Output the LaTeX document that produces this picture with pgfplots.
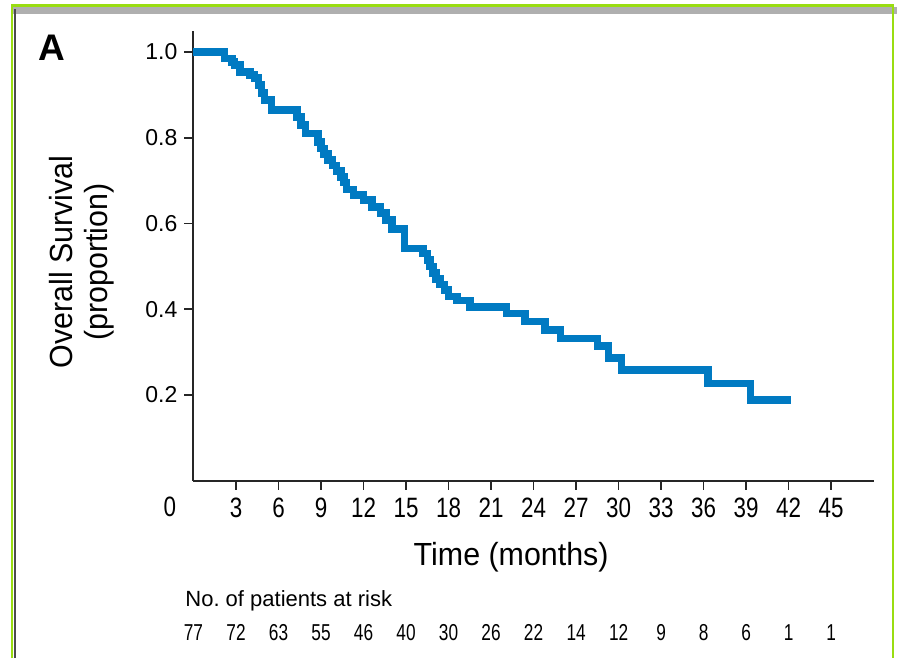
\documentclass[border=0pt]{standalone}
\usepackage{fontspec}
\setmainfont{Liberation Sans}
\newfontfamily\condfont[FakeStretch=0.8]{Liberation Sans}
\newfontfamily\rfont[FakeStretch=0.75]{Liberation Sans}
\newfontfamily\labfont[FakeStretch=0.95]{Liberation Sans}
\usepackage{pgfplots}
\pgfplotsset{compat=1.18}
\definecolor{kmblue}{RGB}{0,122,194}
\definecolor{framegreen}{RGB}{153,221,17}
\definecolor{framegray}{RGB}{175,175,175}
\begin{document}
\begin{tikzpicture}
\useasboundingbox (-96.75pt,-88.625pt) rectangle (351.75pt,240.375pt);
% figure frame
\fill[framegray] (-90.75pt,233.4pt) rectangle (351.75pt,237.0pt);
\draw[framegreen, line width=1.2pt] (-90.75pt,-88.625pt) -- (-90.75pt,237.6pt) -- (349.75pt,237.6pt) -- (349.75pt,-88.625pt);
\draw[black!70, line width=0.8pt] (-89.2pt,-88.625pt) -- (-89.2pt,236pt);
\begin{axis}[
  anchor=origin, at={(0,0)},
  x=7.085pt, y=214.375pt,
  xmin=0, xmax=48, ymin=0, ymax=1.05,
  axis x line*=bottom, axis y line*=left,
  axis line style={line width=1pt, black!85},
  xtick={3,6,...,45},
  ytick={0.2,0.4,0.6,0.8,1.0},
  tick align=outside,
  major tick length=4.5pt,
  tick style={line width=0.8pt, black!85},
  /pgf/number format/assume math mode=true,
  yticklabel style={font=\fontsize{11.5pt}{11.5pt}\selectfont, /pgf/number format/.cd, fixed, fixed zerofill, precision=1},
  xticklabel style={font=\condfont\fontsize{14pt}{14pt}\selectfont, yshift=-0.5pt},
  xlabel={Time (months)},
  xlabel style={font=\labfont\fontsize{16pt}{16pt}\selectfont, at={(axis description cs:0.467,-0.169)}, anchor=center},
  ylabel={Overall Survival\\(proportion)},
  ylabel style={font=\labfont\fontsize{16pt}{17.5pt}\selectfont, align=center, at={(axis description cs:-0.164,0.486)}, anchor=center},
  clip=false,
]
\addplot[const plot, color=kmblue, line width=3.8pt, line join=miter] coordinates {
(0,1.0) (2.2,0.985) (2.7,0.977) (2.9,0.970) (3.3,0.954) (4.0,0.946) (4.3,0.939)
(4.6,0.923) (4.8,0.904) (5.0,0.888) (5.5,0.865) (7.3,0.849) (7.6,0.830) (7.9,0.810)
(8.8,0.790) (9.0,0.775) (9.2,0.762) (9.5,0.748) (9.8,0.735) (10.1,0.722) (10.4,0.709)
(10.6,0.696) (10.8,0.679) (11.3,0.666) (12.0,0.655) (12.6,0.639) (13.2,0.624)
(13.6,0.608) (14.0,0.587) (14.9,0.542) (16.2,0.530) (16.5,0.515) (16.7,0.500)
(16.9,0.485) (17.1,0.470) (17.4,0.458) (17.7,0.445) (18.0,0.430) (18.6,0.420)
(19.5,0.405) (22.1,0.390) (23.4,0.371) (24.8,0.352) (25.9,0.332) (28.5,0.314)
(29.3,0.287) (30.2,0.258) (36.3,0.227) (39.3,0.188) (42.2,0.188)
};
\node[font=\condfont\fontsize{14pt}{14pt}\selectfont] at (axis cs:-1.66,-0.0600) {0};
\node[font=\fontsize{18.5pt}{18.5pt}\selectfont\bfseries] at (axis cs:-9.99,1.009) {A};
\node[font=\fontsize{11pt}{11pt}\selectfont, anchor=west, inner sep=0pt] at (axis cs:-0.6,-0.28) {No.\ of patients at risk};
\node[font=\rfont\fontsize{11.5pt}{11.5pt}\selectfont] at (axis cs:0,-0.355) {77};
\node[font=\rfont\fontsize{11.5pt}{11.5pt}\selectfont] at (axis cs:3,-0.355) {72};
\node[font=\rfont\fontsize{11.5pt}{11.5pt}\selectfont] at (axis cs:6,-0.355) {63};
\node[font=\rfont\fontsize{11.5pt}{11.5pt}\selectfont] at (axis cs:9,-0.355) {55};
\node[font=\rfont\fontsize{11.5pt}{11.5pt}\selectfont] at (axis cs:12,-0.355) {46};
\node[font=\rfont\fontsize{11.5pt}{11.5pt}\selectfont] at (axis cs:15,-0.355) {40};
\node[font=\rfont\fontsize{11.5pt}{11.5pt}\selectfont] at (axis cs:18,-0.355) {30};
\node[font=\rfont\fontsize{11.5pt}{11.5pt}\selectfont] at (axis cs:21,-0.355) {26};
\node[font=\rfont\fontsize{11.5pt}{11.5pt}\selectfont] at (axis cs:24,-0.355) {22};
\node[font=\rfont\fontsize{11.5pt}{11.5pt}\selectfont] at (axis cs:27,-0.355) {14};
\node[font=\rfont\fontsize{11.5pt}{11.5pt}\selectfont] at (axis cs:30,-0.355) {12};
\node[font=\rfont\fontsize{11.5pt}{11.5pt}\selectfont] at (axis cs:33,-0.355) {9};
\node[font=\rfont\fontsize{11.5pt}{11.5pt}\selectfont] at (axis cs:36,-0.355) {8};
\node[font=\rfont\fontsize{11.5pt}{11.5pt}\selectfont] at (axis cs:39,-0.355) {6};
\node[font=\rfont\fontsize{11.5pt}{11.5pt}\selectfont] at (axis cs:42,-0.355) {1};
\node[font=\rfont\fontsize{11.5pt}{11.5pt}\selectfont] at (axis cs:45,-0.355) {1};
\end{axis}
\end{tikzpicture}
\end{document}
